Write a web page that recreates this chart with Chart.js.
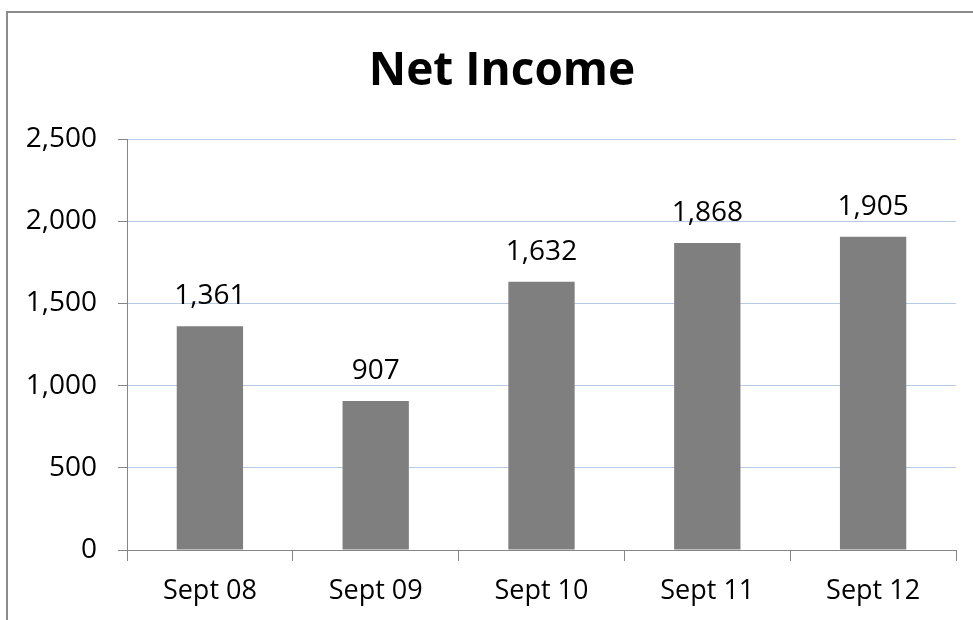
<!DOCTYPE html>
<html>
<head>
<meta charset="utf-8">
<script src="https://cdn.jsdelivr.net/npm/chart.js@4.4.0/dist/chart.umd.min.js"></script>
<style>
  html, body { margin: 0; padding: 0; background: #ffffff; }
  #wrap { width: 973px; height: 620px; }
</style>
</head>
<body>
<div id="wrap"><canvas id="chart" width="973" height="620"></canvas></div>
<script>
var categories = ['Sept 08', 'Sept 09', 'Sept 10', 'Sept 11', 'Sept 12'];
var netIncome = [1361, 907, 1632, 1868, 1905];
var yTicks = [0, 500, 1000, 1500, 2000, 2500];
var chartTitle = 'Net Income';

var axisGray = '#868686';
var gridBlue = '#b7cae4';
var fontFamily = '"Open Sans", "Noto Sans", sans-serif';

function fmt(v) {
    return v.toLocaleString('en-US');
}

// value labels above bars
var barLabels = {
    id: 'barLabels',
    afterDatasetsDraw: function (chart) {
        var ctx = chart.ctx;
        var meta = chart.getDatasetMeta(0);
        ctx.save();
        ctx.font = '28px ' + fontFamily;
        ctx.fillStyle = '#000000';
        ctx.textAlign = 'center';
        ctx.textBaseline = 'middle';
        meta.data.forEach(function (bar, i) {
            ctx.fillText(fmt(netIncome[i]), bar.x, bar.y - 30);
        });
        ctx.restore();
    }
};

// frame (left + top edges) and title, centred like the Excel chart box
var frameTitle = {
    id: 'frameTitle',
    beforeDraw: function (chart) {
        var ctx = chart.ctx;
        ctx.save();
        ctx.strokeStyle = '#8c8c8c';
        ctx.lineWidth = 2;
        ctx.beginPath();
        ctx.moveTo(7, 620);
        ctx.lineTo(7, 12);
        ctx.lineTo(973, 12);
        ctx.stroke();
        ctx.font = 'bold 46px ' + fontFamily;
        ctx.fillStyle = '#000000';
        ctx.textAlign = 'center';
        ctx.textBaseline = 'alphabetic';
        ctx.fillText(chartTitle, 502, 85);
        ctx.restore();
    }
};

new Chart(document.getElementById('chart'), {
    type: 'bar',
    data: {
        labels: categories,
        datasets: [{
            data: netIncome,
            backgroundColor: '#7f7f7f',
            borderWidth: 0,
            barPercentage: 0.4,
            categoryPercentage: 1
        }]
    },
    options: {
        responsive: false,
        animation: false,
        layout: { padding: { left: 0, right: 17, top: 139, bottom: 0 } },
        plugins: {
            legend: { display: false },
            tooltip: { enabled: false },
            title: { display: false }
        },
        scales: {
            x: {
                offset: true,
                grid: {
                    offset: true,
                    drawOnChartArea: false,
                    tickLength: 11,
                    tickColor: axisGray
                },
                border: { color: axisGray, width: 1 },
                ticks: {
                    color: '#000000',
                    padding: 14,
                    font: { family: fontFamily, size: 27 }
                },
                afterFit: function (scale) { scale.height = 70; }
            },
            y: {
                min: 0,
                max: 2500,
                afterBuildTicks: function (scale) {
                    scale.ticks = yTicks.map(function (v) { return { value: v }; });
                },
                grid: {
                    color: function (c) { return c.tick && c.tick.value === 0 ? axisGray : gridBlue; },
                    tickLength: 9,
                    tickColor: axisGray
                },
                border: { color: axisGray, width: 1 },
                ticks: {
                    color: '#000000',
                    padding: 21,
                    font: { family: fontFamily, size: 28 },
                    callback: function (v) { return fmt(v); }
                },
                afterFit: function (scale) { scale.width = 127; }
            }
        }
    },
    plugins: [frameTitle, barLabels]
});
</script>
</body>
</html>
